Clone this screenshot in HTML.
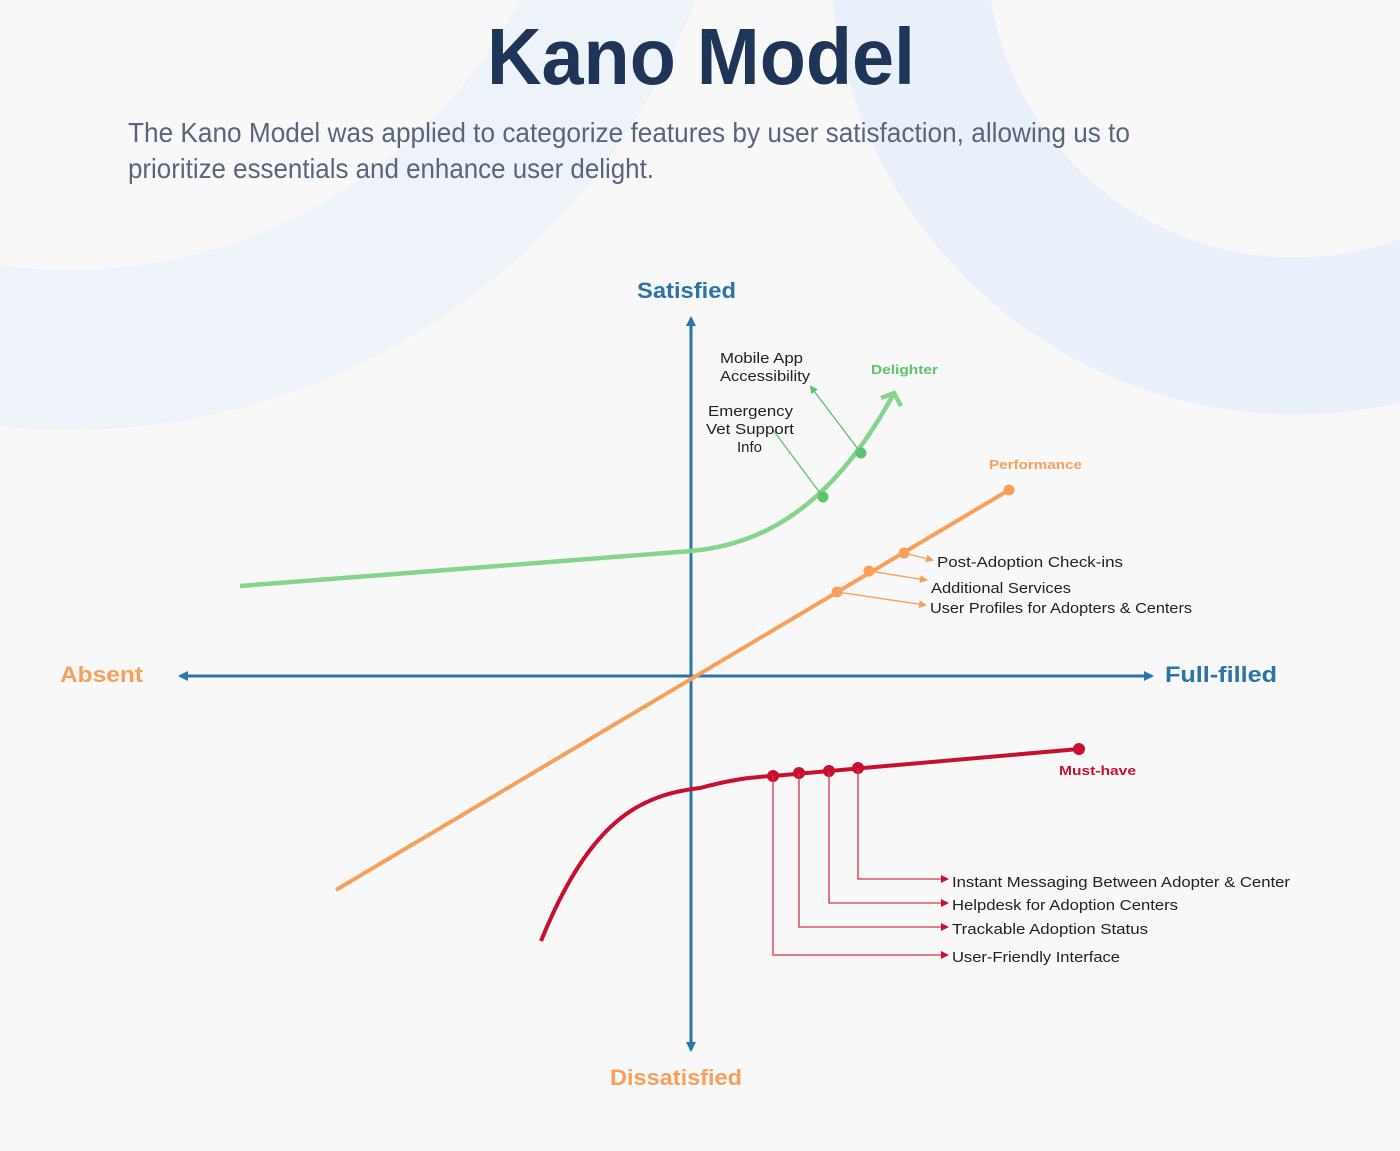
<!DOCTYPE html>
<html><head><meta charset="utf-8"><style>
html,body{margin:0;padding:0;background:#f8f8f8;}
svg{display:block;}
</style></head><body>
<svg width="1400" height="1151" viewBox="0 0 1400 1151" xmlns="http://www.w3.org/2000/svg" font-family="Liberation Sans, sans-serif">
<defs>
<clipPath id="c"><rect width="1400" height="1151"/></clipPath>
<marker id="ab" markerWidth="10" markerHeight="10" refX="8" refY="5" orient="auto" markerUnits="userSpaceOnUse"><path d="M0,0 L10,5 L0,10 z" fill="#2a75a8"/></marker>
<marker id="ag" markerWidth="8" markerHeight="8" refX="6" refY="4" orient="auto" markerUnits="userSpaceOnUse"><path d="M0,0 L8,4 L0,8 z" fill="#5cc46a"/></marker>
<marker id="ao" markerWidth="8" markerHeight="8" refX="6" refY="4" orient="auto" markerUnits="userSpaceOnUse"><path d="M0,0 L8,4 L0,8 z" fill="#f7a05a"/></marker>
<marker id="ar" markerWidth="8" markerHeight="8" refX="6" refY="4" orient="auto" markerUnits="userSpaceOnUse"><path d="M0,0 L8,4 L0,8 z" fill="#c8102e"/></marker>
</defs>
<g clip-path="url(#c)">
<circle cx="70" cy="-240" r="590" fill="none" stroke="#eef2f9" stroke-width="160"/>
<circle cx="1295" cy="-51" r="387" fill="none" stroke="#eaf0fa" stroke-width="157"/>
</g>
<text x="487" y="84" font-size="80" font-weight="bold" fill="#1f3557" textLength="428" lengthAdjust="spacingAndGlyphs">Kano Model</text>
<text x="128" y="142" font-size="28" fill="#59657a" textLength="1002" lengthAdjust="spacingAndGlyphs">The Kano Model was applied to categorize features by user satisfaction, allowing us to</text>
<text x="128" y="178" font-size="28" fill="#59657a" textLength="526" lengthAdjust="spacingAndGlyphs">prioritize essentials and enhance user delight.</text>

<!-- axes -->
<line x1="691" y1="1045" x2="691" y2="318" stroke="#2a75a8" stroke-width="3" marker-end="url(#ab)"/>
<line x1="691" y1="330" x2="691" y2="1050" stroke="#2a75a8" stroke-width="3" marker-end="url(#ab)"/>
<line x1="190" y1="676" x2="1152" y2="676" stroke="#2a75a8" stroke-width="3" marker-end="url(#ab)"/>
<line x1="1140" y1="676" x2="180" y2="676" stroke="#2a75a8" stroke-width="3" marker-end="url(#ab)"/>
<text x="637" y="298" font-size="22" font-weight="bold" fill="#2a75a8" textLength="99" lengthAdjust="spacingAndGlyphs">Satisfied</text>
<text x="610" y="1085" font-size="22" font-weight="bold" fill="#f7a05a" textLength="132" lengthAdjust="spacingAndGlyphs">Dissatisfied</text>
<text x="60" y="682" font-size="22" font-weight="bold" fill="#f7a05a" textLength="83" lengthAdjust="spacingAndGlyphs">Absent</text>
<text x="1165" y="682" font-size="22" font-weight="bold" fill="#2a75a8" textLength="112" lengthAdjust="spacingAndGlyphs">Full-filled</text>

<!-- performance -->
<line x1="336" y1="890" x2="1009" y2="490" stroke="#f7a05a" stroke-width="4"/>
<circle cx="1009" cy="490" r="5.5" fill="#f7a05a"/>
<circle cx="904" cy="553" r="5.5" fill="#f7a05a"/>
<circle cx="869" cy="571" r="5.5" fill="#f7a05a"/>
<circle cx="837" cy="592" r="5.5" fill="#f7a05a"/>
<line x1="904" y1="553" x2="932" y2="560" stroke="#f7a05a" stroke-width="1.3" marker-end="url(#ao)"/>
<line x1="869" y1="571" x2="926" y2="580" stroke="#f7a05a" stroke-width="1.3" marker-end="url(#ao)"/>
<line x1="837" y1="592" x2="925" y2="605" stroke="#f7a05a" stroke-width="1.3" marker-end="url(#ao)"/>
<text x="989" y="469" font-size="13" font-weight="bold" fill="#f7a05a" textLength="93" lengthAdjust="spacingAndGlyphs">Performance</text>
<g font-size="15" fill="#222">
<text x="937" y="567" textLength="186" lengthAdjust="spacingAndGlyphs">Post-Adoption Check-ins</text>
<text x="931" y="593" textLength="140" lengthAdjust="spacingAndGlyphs">Additional Services</text>
<text x="930" y="613" textLength="262" lengthAdjust="spacingAndGlyphs">User Profiles for Adopters &amp; Centers</text>
</g>

<!-- delighter -->
<path d="M240,586 L691,551 C760,545 830,510 893,395" fill="none" stroke="#84d48c" stroke-width="4.5"/>
<polyline points="881,398 894,393 901,406" fill="none" stroke="#84d48c" stroke-width="4.5"/>
<circle cx="861" cy="453" r="5.5" fill="#5cc46a"/>
<circle cx="823" cy="497" r="5.5" fill="#5cc46a"/>
<line x1="861" y1="453" x2="811" y2="387" stroke="#5cc46a" stroke-width="1.3" marker-end="url(#ag)"/>
<line x1="823" y1="497" x2="773" y2="430" stroke="#5cc46a" stroke-width="1.3"/>
<text x="871" y="374" font-size="13" font-weight="bold" fill="#5cc46a" textLength="67" lengthAdjust="spacingAndGlyphs">Delighter</text>
<g font-size="15" fill="#222">
<text x="720" y="363" textLength="83" lengthAdjust="spacingAndGlyphs">Mobile App</text>
<text x="720" y="381" textLength="90" lengthAdjust="spacingAndGlyphs">Accessibility</text>
<text x="708" y="416" textLength="85" lengthAdjust="spacingAndGlyphs">Emergency</text>
<text x="706" y="434" textLength="88" lengthAdjust="spacingAndGlyphs">Vet Support</text>
<text x="737" y="452">Info</text>
</g>

<!-- must-have -->
<path d="M541,941 C590,820 640,795 700,788 C730,780 750,777 773,776 L1079,749" fill="none" stroke="#c8102e" stroke-width="4"/>
<circle cx="1079" cy="749" r="6" fill="#c8102e"/>
<circle cx="773" cy="776" r="6" fill="#c8102e"/>
<circle cx="799" cy="773" r="6" fill="#c8102e"/>
<circle cx="829" cy="771" r="6" fill="#c8102e"/>
<circle cx="858" cy="768" r="6" fill="#c8102e"/>
<g fill="none" stroke="#d6304a" stroke-width="1.3">
<polyline points="858,768 858,879 947,879" marker-end="url(#ar)"/>
<polyline points="829,771 829,903 947,903" marker-end="url(#ar)"/>
<polyline points="799,773 799,927 947,927" marker-end="url(#ar)"/>
<polyline points="773,776 773,955 947,955" marker-end="url(#ar)"/>
</g>
<text x="1059" y="775" font-size="13" font-weight="bold" fill="#c8102e" textLength="77" lengthAdjust="spacingAndGlyphs">Must-have</text>
<g font-size="15" fill="#222">
<text x="952" y="887" textLength="338" lengthAdjust="spacingAndGlyphs">Instant Messaging Between Adopter &amp; Center</text>
<text x="952" y="910" textLength="226" lengthAdjust="spacingAndGlyphs">Helpdesk for Adoption Centers</text>
<text x="952" y="934" textLength="196" lengthAdjust="spacingAndGlyphs">Trackable Adoption Status</text>
<text x="952" y="962" textLength="168" lengthAdjust="spacingAndGlyphs">User-Friendly Interface</text>
</g>
</svg>
</body></html>
